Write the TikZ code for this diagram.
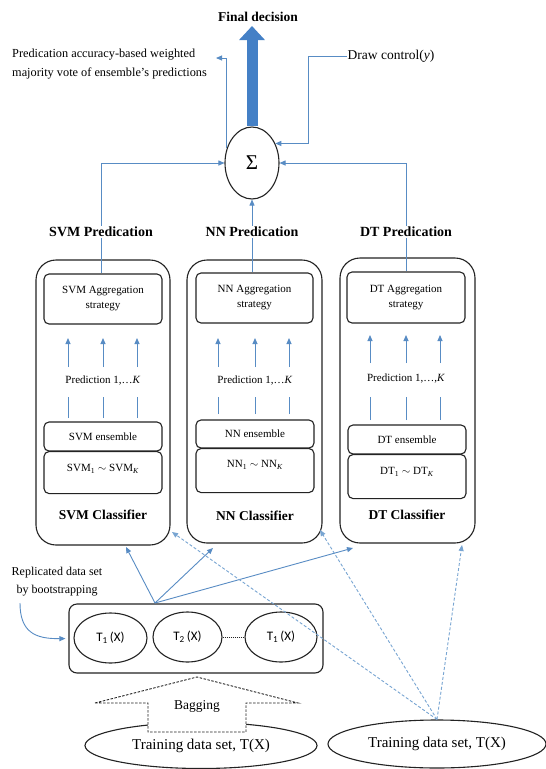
\documentclass[tikz,border=0pt]{standalone}
\usepackage{fontspec}
\setmainfont{Liberation Serif}
\newfontfamily\carl{Carlito}
\usetikzlibrary{arrows.meta,shapes.geometric}
\definecolor{lnblue}{RGB}{88,140,196}
\definecolor{dshblue}{RGB}{120,165,210}
\definecolor{bigblue}{RGB}{68,128,198}
\definecolor{edgec}{RGB}{35,35,35}
\begin{document}
\begin{tikzpicture}[x=1pt,y=-1pt,
 conn/.style={draw=lnblue, line width=0.9pt, -{Triangle[length=6pt,width=5pt]}},
 plainln/.style={draw=lnblue, line width=0.9pt},
 dconn/.style={draw=dshblue, line width=0.9pt, dash pattern=on 3pt off 2pt, -{Triangle[length=6pt,width=5pt]}},
 bigbox/.style={draw=edgec, line width=1.1pt, rounded corners=20pt, inner sep=0pt, minimum width=135pt, minimum height=285pt},
 sbox/.style={draw=edgec, line width=1.1pt, rounded corners=5pt, inner sep=0pt, minimum width=118pt, font=\fontsize{11}{15}\selectfont, align=center},
 kbox/.style={sbox, anchor=north, inner ysep=4pt, minimum height=0pt},
 ttl/.style={font=\fontsize{14}{16}\selectfont\bfseries, inner sep=1pt},
 cls/.style={font=\fontsize{13.5}{16}\selectfont\bfseries, inner sep=1pt},
 pred/.style={font=\fontsize{11}{13}\selectfont, inner sep=1pt},
 txt/.style={font=\fontsize{12.3}{19}\selectfont, inner sep=1pt},
 ell/.style={ellipse, draw=edgec, line width=1.1pt, inner sep=0pt, fill=white},
 tx/.style={ell, font=\carl\fontsize{13}{15}\selectfont}
]
\useasboundingbox (0,0) rectangle (546,769);
\fill[white] (0,0) rectangle (546,769);

% top
\node[font=\fontsize{13.5}{16}\selectfont\bfseries, inner sep=1pt] (final) at (258,17) {Final decision};
\coordinate (ftip) at (252,26);
\node[ell, minimum width=54pt, minimum height=72pt, font=\fontsize{21}{21}\selectfont] (sigma) at (252,163) {Σ};
\draw[bigblue, line width=11pt, -{Triangle[length=14pt,width=25pt]}] (sigma.north) -- (ftip);

\node[txt, align=left, anchor=west] (wvote) at (11,64) {Predication accuracy-based weighted\\majority vote of ensemble's predictions};
\coordinate (wtip) at (216,58);
\draw[conn] (sigma.150) |- (wtip);

\node[txt, font=\fontsize{13.5}{16}\selectfont] (dc) at (391,56) {Draw control(\textit{y})};
\coordinate (dcb) at (308,56);
\draw[conn] (dc.west) -- (dcb) |- (sigma.40);

% classifier boxes
\node[bigbox, minimum width=134pt] (svmbox) at (103,402.5) {};
\node[bigbox, minimum height=283pt] (nnbox) at (254.5,401.5) {};
\node[bigbox] (dtbox) at (407.5,400.5) {};

\node[ttl] (svmp) at (101,232) {SVM Predication};
\node[ttl] (nnp) at (252,232) {NN Predication};
\node[ttl] (dtp) at (406,232) {DT Predication};

\draw[conn] (svmp.north) |- (sigma.west);
\draw[conn] (nnp.north) -- (sigma.south);
\draw[conn] (dtp.north) |- (sigma.east);

\node[sbox, minimum height=50pt] (svmagg) at (103,299) {SVM Aggregation\\strategy};
\node[sbox, minimum width=117pt, minimum height=50pt] (nnagg) at (254.5,298) {NN Aggregation\\strategy};
\node[sbox, minimum height=51pt] (dtagg) at (406,297.5) {DT Aggregation\\strategy};

\draw[plainln] (svmp.south) -- (svmp.south |- svmagg.north);
\draw[plainln] (nnp.south) -- (nnp.south |- nnagg.north);
\draw[plainln] (dtp.south) -- (dtp.south |- dtagg.north);

\node[pred] (svmpr) at (103,381) {Prediction 1,\ldots\textit{K}};
\node[pred] (nnpr) at (255,381) {Prediction 1,\ldots\textit{K}};
\node[pred] (dtpr) at (406,379) {Prediction 1,\ldots,\textit{K}};

\node[sbox, minimum height=29pt] (svmens) at (103,436.5) {SVM ensemble};
\node[sbox, minimum height=28pt] (nnens) at (255,434) {NN ensemble};
\node[sbox, minimum height=29pt] (dtens) at (407,439.5) {DT ensemble};

\node[kbox, text height=16pt, text depth=18pt] (svmk) at (103,451) {SVM\textsubscript{1} $\sim$ SVM\textsubscript{\textit{K}}};
\node[kbox, text height=15pt, text depth=21pt] (nnk) at (255,448) {NN\textsubscript{1} $\sim$ NN\textsubscript{\textit{K}}};
\node[kbox, text height=16pt, text depth=20pt] (dtk) at (407,454) {DT\textsubscript{1} $\sim$ DT\textsubscript{\textit{K}}};

\node[cls] (svmcl) at (103,515) {SVM Classifier};
\node[cls] (nncl) at (255,516) {NN Classifier};
\node[cls] (dtcl) at (407,515) {DT Classifier};

% prediction arrows
\foreach \n/\x/\ya/\yb/\yc/\yd in {s1/68/338/367/397/418, s2/103/338/367/397/418, s3/137/338/367/397/418,
  n1/218/338/367/397/414, n2/255/338/367/397/414, n3/289/338/367/397/414,
  d1/370/335/363/397/420, d2/406/335/363/397/420, d3/440/335/363/397/420}{
  \coordinate (\n top) at (\x,\ya);
  \coordinate (\n bot) at (\x,\yb);
  \coordinate (\n ltop) at (\x,\yc);
  \coordinate (\n lbot) at (\x,\yd);
  \draw[conn] (\n bot) -- (\n top);
  \draw[plainln] (\n lbot) -- (\n ltop);
}

% bottom
\node[draw=edgec, line width=1.1pt, rounded corners=8pt, minimum width=254pt, minimum height=69pt, inner sep=0pt] (bag) at (196,638.5) {};
\node[tx, minimum width=73pt, minimum height=50pt] (t1) at (110.5,638) {T\textsubscript{1}\,(X)};
\node[tx, minimum width=69pt, minimum height=50pt] (t2) at (187.5,637) {T\textsubscript{2}\,(X)};
\node[tx, minimum width=72pt, minimum height=50pt] (t3) at (281,637) {T\textsubscript{1}\,(X)};
\draw[edgec, line width=0.8pt, dash pattern=on 1pt off 1pt] (t2.east) -- (t3.west);

\node[font=\fontsize{12}{18}\selectfont, align=center, inner sep=1pt] (rep) at (57,582) {Replicated data set\\by bootstrapping};
\coordinate (rs) at (20,603);
\draw[conn, shorten >=3pt] (rs) .. controls (20,632) and (35,639) .. (bag.west);

\coordinate (bt) at (155,603);
\coordinate (a1) at (126,547);
\coordinate (a2) at (213,548);
\coordinate (a3) at (353,548);
\draw[conn] (bt) -- (a1);
\draw[conn] (bt) -- (a2);
\draw[conn] (bt) -- (a3);

\node[ell, minimum width=232pt, minimum height=46pt, font=\fontsize{15}{17}\selectfont] (ltrain) at (201,745.5) {Training data set, T(X)};
\node[ell, minimum width=218pt, minimum height=48pt, font=\fontsize{15}{17}\selectfont] (rtrain) at (437,744) {Training data set, T(X)};

\draw[edgec, line width=0.9pt, dash pattern=on 2.5pt off 1.5pt, fill=white] (95,703) -- (197,677) -- (298,703) -- (246,703) -- (246,732) -- (148,732) -- (148,703) -- cycle;
\node[font=\fontsize{13.5}{16}\selectfont, inner sep=1pt] (bagging) at (197,706) {Bagging};

\coordinate (d1) at (172,532);
\coordinate (d2) at (320,530);
\coordinate (d3) at (462,545);
\draw[dconn] (rtrain.north) -- (d1);
\draw[dconn] (rtrain.north) -- (d2);
\draw[dconn] (rtrain.north) -- (d3);
\end{tikzpicture}
\end{document}
